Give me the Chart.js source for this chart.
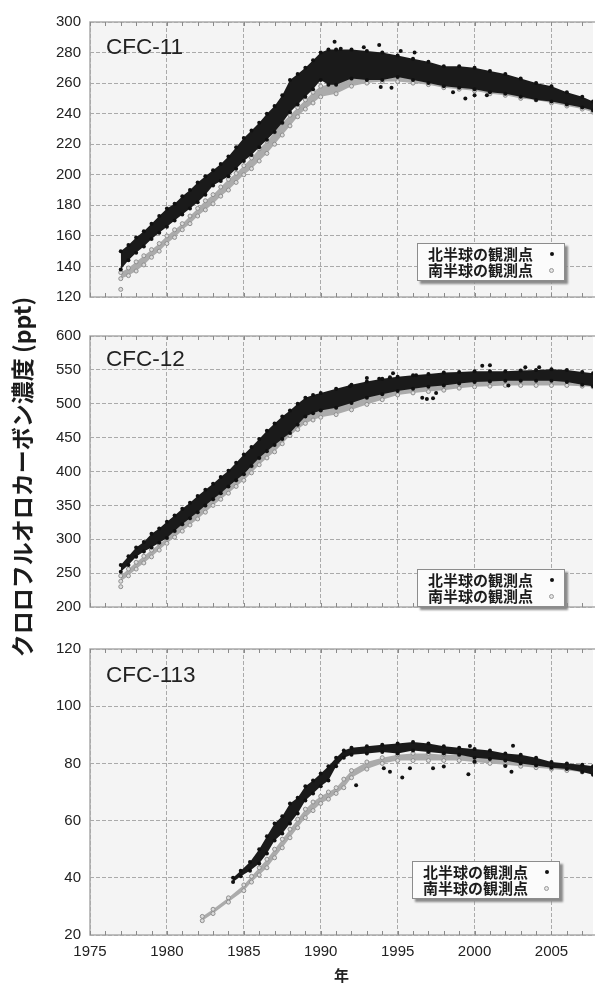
<!DOCTYPE html>
<html lang="ja">
<head>
<meta charset="UTF-8">
<title>クロロフルオロカーボン濃度</title>
<script src="https://cdn.jsdelivr.net/npm/chart.js"></script>
<style>
    body { margin: 0; background: #fff; }
    #wrap { position: relative; width: 598px; height: 983px; overflow: hidden; font-family: "Liberation Sans", Arial, sans-serif; }
    canvas { position: absolute; left: 0; }
    .panel-name { position: absolute; left: 106px; font-size: 22.5px; line-height: 22px; color: #222; }
    .legend { position: absolute; width: 128px; background: #fbfbfb; border: 1px solid #8c8c8c; box-shadow: 3px 3px 2px #8a8a8a;
              font-family: "Noto Sans CJK JP", sans-serif; font-weight: 700; font-size: 15px; line-height: 16px; color: #1c1c1c; padding: 2px 8px 2px 10px; }
    .legend .row { position: relative; }
    .legend .mk { position: absolute; right: 2px; top: 6px; width: 4px; height: 4px; border-radius: 50%; }
    .mk.north { background: #111; }
    .mk.south { background: #e4e4e4; border: 1px solid #9a9a9a; width: 3px; height: 3px; }
    #ytitle { position: absolute; left: -179px; top: 462px; width: 400px; height: 30px; line-height: 30px; text-align: center;
              transform: rotate(-90deg); font-family: "Noto Sans CJK JP", sans-serif; font-weight: 600; font-size: 23px; color: #1c1c1c; }
</style>
</head>
<body>
<div id="wrap">
    <canvas id="c11" width="598" height="315" style="top:0px"></canvas>
    <canvas id="c12" width="598" height="310" style="top:315px"></canvas>
    <canvas id="c113" width="598" height="358" style="top:625px"></canvas>

    <div class="panel-name" style="top:36px">CFC-11</div>
    <div class="panel-name" style="top:348px">CFC-12</div>
    <div class="panel-name" style="top:664px">CFC-113</div>

    <div class="legend" style="left:417px; top:243px">
        <div class="row">北半球の観測点<span class="mk north"></span></div>
        <div class="row">南半球の観測点<span class="mk south"></span></div>
    </div>
    <div class="legend" style="left:417px; top:569px">
        <div class="row">北半球の観測点<span class="mk north"></span></div>
        <div class="row">南半球の観測点<span class="mk south"></span></div>
    </div>
    <div class="legend" style="left:412px; top:861px">
        <div class="row">北半球の観測点<span class="mk north"></span></div>
        <div class="row">南半球の観測点<span class="mk south"></span></div>
    </div>

    <div id="ytitle">クロロフルオロカーボン濃度 (ppt)</div>
</div>

<script>
    // ---- CFC-11 (ppt) : upper / lower edge of each point cloud ----
    const north11Years = [1977, 1977.5, 1978, 1978.5, 1979, 1979.5, 1980, 1980.5, 1981, 1981.5, 1982, 1982.5, 1983, 1983.5, 1984, 1984.5, 1985, 1985.5, 1986, 1986.5, 1987, 1987.5, 1988, 1988.5, 1989, 1989.5, 1990, 1990.5, 1991, 1992, 1993, 1994, 1995, 1996, 1997, 1998, 1999, 2000, 2001, 2002, 2003, 2004, 2005, 2006, 2007, 2007.7];
    const north11Low   = [138, 144, 149, 153, 158, 162, 166, 170, 174, 178, 182, 187, 193, 196, 199, 204, 209, 213, 218, 223, 228, 234, 241, 246, 251, 256, 262, 259, 259, 263, 262, 262, 264, 262, 260, 258, 257, 256, 254, 253, 251, 249, 248, 246, 244, 242];
    const north11High  = [150, 154, 159, 163, 168, 173, 178, 181, 186, 190, 195, 199, 203, 207, 212, 218, 224, 229, 234, 240, 245, 252, 262, 266, 270, 275, 280, 282, 282, 282, 281, 280, 278, 276, 274, 271, 271, 270, 268, 266, 263, 260, 258, 254, 251, 248];
    const north11OutYears = [1990.9, 1991.3, 1992.8, 1993.8, 1995.2, 1996.1, 1993.9, 1994.6, 1998.6, 1999.4, 2000.0, 2000.8];
    const north11Out      = [287, 282.5, 283.5, 285, 281, 280, 257.5, 257, 254, 250, 252, 252];
    const south11Years = [1977, 1977.5, 1978, 1978.5, 1979, 1979.5, 1980, 1980.5, 1981, 1981.5, 1982, 1982.5, 1983, 1983.5, 1984, 1984.5, 1985, 1985.5, 1986, 1986.5, 1987, 1987.5, 1988, 1988.5, 1989, 1989.5, 1990, 1991, 1992, 1993, 1994, 1995, 1996, 1997, 1998, 1999, 2000, 2001, 2002, 2003, 2004, 2005, 2006, 2007, 2007.7];
    const south11Low   = [132, 134, 137, 141, 146, 150, 155, 159, 164, 168, 173, 177, 181, 186, 190, 195, 200, 204, 209, 214, 220, 226, 232, 238, 243, 247, 251, 253, 258, 260, 261, 261, 260, 259, 257, 256, 255, 253, 252, 250, 249, 247, 245, 243, 241];
    const south11High  = [136, 139, 143, 147, 151, 155, 160, 164, 168, 173, 178, 183, 187, 192, 197, 201, 206, 211, 217, 222, 228, 234, 239, 244, 249, 254, 258, 260, 263, 265, 266, 266, 265, 264, 262, 261, 260, 258, 256, 254, 253, 251, 249, 247, 245];
    const south11OutYears = [1977.0];
    const south11Out      = [125];

    // ---- CFC-12 (ppt) ----
    const north12Years = [1977, 1977.5, 1978, 1978.5, 1979, 1979.5, 1980, 1980.5, 1981, 1981.5, 1982, 1982.5, 1983, 1983.5, 1984, 1984.5, 1985, 1985.5, 1986, 1986.5, 1987, 1987.5, 1988, 1988.5, 1989, 1989.5, 1990, 1991, 1992, 1993, 1994, 1995, 1996, 1997, 1998, 1999, 2000, 2001, 2002, 2003, 2004, 2005, 2006, 2007, 2007.7];
    const north12Low   = [252, 262, 274, 282, 288, 295, 302, 312, 322, 331, 340, 350, 359, 368, 378, 387, 396, 408, 420, 430, 439, 448, 457, 469, 481, 486, 490, 494, 501, 509, 514, 519, 522, 525, 527, 530, 532, 533, 534, 534, 534, 534, 532, 528, 526];
    const north12High  = [262, 275, 288, 296, 308, 316, 326, 335, 345, 354, 364, 373, 382, 392, 401, 413, 425, 436, 448, 460, 471, 481, 490, 500, 509, 513, 516, 522, 528, 533, 537, 540, 542, 544, 546, 547, 548, 548, 548, 549, 550, 551, 550, 547, 545];
    const north12OutYears = [1991.9, 1993.0, 1993.8, 1994.5, 1994.7, 1996.2, 1996.6, 1996.9, 1997.3, 1997.5, 2000.5, 2001.0, 2002.2, 2003.3, 2004.2];
    const north12Out      = [526, 538, 537, 539, 545, 542, 509, 507, 508, 516, 556, 557, 527, 554, 554];
    const south12Years = [1977, 1977.5, 1978, 1978.5, 1979, 1979.5, 1980, 1980.5, 1981, 1981.5, 1982, 1982.5, 1983, 1983.5, 1984, 1984.5, 1985, 1985.5, 1986, 1986.5, 1987, 1987.5, 1988, 1988.5, 1989, 1989.5, 1990, 1991, 1992, 1993, 1994, 1995, 1996, 1997, 1998, 1999, 2000, 2001, 2002, 2003, 2004, 2005, 2006, 2007, 2007.7];
    const south12Low   = [238, 246, 256, 265, 274, 284, 294, 303, 312, 321, 330, 340, 350, 359, 368, 378, 387, 398, 410, 420, 429, 441, 453, 462, 471, 476, 480, 484, 491, 499, 506, 513, 516, 518, 520, 523, 525, 526, 527, 527, 527, 527, 527, 526, 525];
    const south12High  = [246, 256, 266, 275, 284, 293, 302, 312, 322, 331, 340, 350, 359, 369, 378, 387, 396, 408, 420, 432, 443, 455, 467, 476, 483, 487, 491, 495, 504, 512, 517, 523, 525, 527, 530, 532, 533, 534, 535, 536, 536, 536, 534, 533, 532];
    const south12OutYears = [1977.0];
    const south12Out      = [230];

    // ---- CFC-113 (ppt) ----
    const north113Years = [1984.3, 1984.8, 1985.4, 1986, 1986.5, 1987, 1987.5, 1988, 1988.5, 1989, 1989.5, 1990, 1990.5, 1991, 1991.5, 1992, 1993, 1994, 1995, 1996, 1997, 1998, 1999, 2000, 2001, 2002, 2003, 2004, 2005, 2006, 2007, 2007.7];
    const north113Low   = [38.5, 40.5, 42.5, 45, 48.5, 53, 55.5, 59, 62.5, 67, 69.5, 72, 74, 79, 82, 83, 83.5, 84, 83.5, 84.5, 84, 83.5, 83, 82, 81.5, 81, 80, 79.3, 78.5, 78, 77, 76];
    const north113High  = [40, 42.5, 45.5, 50, 54.5, 59, 61.5, 66, 68, 72, 74, 76.5, 79, 82, 84.5, 85.5, 86, 86.5, 87, 87.5, 87, 86, 85.5, 85, 84.5, 83.5, 83, 82, 80.5, 80, 79.5, 79];
    const north113OutYears = [1992.3, 1994.1, 1994.5, 1995.3, 1995.8, 1997.3, 1998.0, 1999.6, 1999.7, 2000.0, 2002.0, 2002.4, 2002.5];
    const north113Out      = [72.4, 78.3, 77.1, 75.1, 78.3, 78.3, 78.9, 76.2, 86.1, 80.6, 79.1, 77.1, 86.2];
    const south113Years = [1982.3, 1983, 1984, 1985, 1985.5, 1986, 1986.5, 1987, 1987.5, 1988, 1988.5, 1989, 1989.5, 1990, 1990.5, 1991, 1991.5, 1992, 1993, 1994, 1995, 1996, 1997, 1998, 1999, 2000, 2001, 2002, 2003, 2004, 2005, 2006, 2007, 2007.7];
    const south113Low   = [25, 27.5, 31.5, 35.5, 38.5, 41, 43.5, 47, 50.5, 54, 57.5, 61, 63.5, 66, 67.5, 69.5, 71.5, 75, 78, 80, 81, 81, 81, 81, 81, 80.5, 80, 79.5, 79, 78.5, 78, 77.5, 77, 76.5];
    const south113High  = [26.5, 29, 33, 37.5, 40.5, 43.5, 46.5, 50, 53.5, 57, 60.5, 64, 66.5, 68.5, 70, 71.5, 74.5, 77.5, 80.5, 82, 83, 83.5, 83.5, 83, 83, 82.5, 82, 81.5, 81, 80, 79.5, 79, 78.5, 78];

    // x axis (years)
    const yearMin = 1975;
    const yearMax = 2007.7;

    const toPoints = (xs, ys) => xs.map((x, i) => ({ x: x, y: ys[i] }));

    // grey plot background, frame and the small yearly tick marks
    const framePlugin = {
        id: 'frame',
        beforeDraw(chart) {
            const { ctx, chartArea: a } = chart;
            ctx.save();
            ctx.fillStyle = '#f4f4f4';
            ctx.fillRect(a.left, a.top, a.right - a.left, a.bottom - a.top);
            ctx.restore();
        },
        afterDraw(chart) {
            const { ctx, chartArea: a } = chart;
            const x = chart.scales.x;
            ctx.save();
            ctx.strokeStyle = '#ababab';
            ctx.lineWidth = 1.5;
            ctx.beginPath();
            ctx.moveTo(a.right + 2, a.top);
            ctx.lineTo(a.left, a.top);
            ctx.lineTo(a.left, a.bottom);
            ctx.lineTo(a.right + 2, a.bottom);
            ctx.stroke();
            ctx.lineWidth = 1;
            ctx.strokeStyle = '#8a8a8a';
            ctx.beginPath();
            for (let yr = Math.ceil(yearMin); yr <= yearMax; yr++) {
                const px = Math.round(x.getPixelForValue(yr)) + 0.5;
                ctx.moveTo(px, a.top); ctx.lineTo(px, a.top + 4);
                ctx.moveTo(px, a.bottom); ctx.lineTo(px, a.bottom - 4);
            }
            ctx.stroke();
            ctx.restore();
        }
    };

    function makeChart(id, d) {
        const north = { showLine: false, borderWidth: 0, pointRadius: 2, pointBorderWidth: 0,
                        pointBackgroundColor: '#111', pointBorderColor: '#111' };
        const south = { showLine: false, borderWidth: 0, pointRadius: 2, pointBorderWidth: 1,
                        pointBackgroundColor: '#dcdcdc', pointBorderColor: '#8f8f8f' };
        return new Chart(document.getElementById(id), {
            type: 'line',
            data: {
                datasets: [
                    Object.assign({ label: '北半球の観測点', data: toPoints(d.nOutYears, d.nOut), fill: false }, north),
                    Object.assign({ label: '北半球 下限', data: toPoints(d.nYears, d.nLow), fill: false }, north),
                    Object.assign({ label: '北半球 上限', data: toPoints(d.nYears, d.nHigh), fill: '-1', backgroundColor: '#1a1a1a' }, north),
                    Object.assign({ label: '南半球の観測点', data: toPoints(d.sOutYears, d.sOut), fill: false }, south),
                    Object.assign({ label: '南半球 下限', data: toPoints(d.sYears, d.sLow), fill: false }, south),
                    Object.assign({ label: '南半球 上限', data: toPoints(d.sYears, d.sHigh), fill: '-1', backgroundColor: '#ababab' }, south)
                ]
            },
            options: {
                responsive: false,
                animation: false,
                layout: { padding: { top: d.padTop, left: 0, right: 0, bottom: 0 } },
                plugins: { legend: { display: false }, tooltip: { enabled: false } },
                scales: {
                    x: {
                        type: 'linear',
                        min: yearMin,
                        max: yearMax,
                        border: { display: false, dash: [4, 2] },
                        grid: { color: '#a2a2a2', lineWidth: 0.9, drawTicks: false },
                        ticks: {
                            display: d.showX,
                            stepSize: 5,
                            includeBounds: false,
                            padding: 8,
                            color: '#222',
                            font: { family: 'Liberation Sans', size: 15 },
                            callback: v => String(v)
                        },
                        title: {
                            display: d.showX,
                            text: '年',
                            padding: 0,
                            color: '#222',
                            font: { family: 'Noto Sans CJK JP', size: 15, weight: 'bold', lineHeight: 1 }
                        },
                        afterFit: s => { s.height = d.xHeight; }
                    },
                    y: {
                        min: d.yMin,
                        max: d.yMax,
                        border: { display: false, dash: [4, 2] },
                        grid: { color: '#a2a2a2', lineWidth: 0.9, drawTicks: false },
                        ticks: {
                            stepSize: d.yStep,
                            padding: 9,
                            color: '#222',
                            font: { family: 'Liberation Sans', size: 15 }
                        },
                        afterFit: s => { s.width = 90; }
                    }
                }
            },
            plugins: [framePlugin]
        });
    }

    makeChart('c11', { nYears: north11Years, nLow: north11Low, nHigh: north11High, nOutYears: north11OutYears, nOut: north11Out,
                       sYears: south11Years, sLow: south11Low, sHigh: south11High, sOutYears: south11OutYears, sOut: south11Out,
                       yMin: 120, yMax: 300, yStep: 20, padTop: 22, xHeight: 5, showX: false });
    makeChart('c12', { nYears: north12Years, nLow: north12Low, nHigh: north12High, nOutYears: north12OutYears, nOut: north12Out,
                       sYears: south12Years, sLow: south12Low, sHigh: south12High, sOutYears: south12OutYears, sOut: south12Out,
                       yMin: 200, yMax: 600, yStep: 50, padTop: 21, xHeight: 5, showX: false });
    makeChart('c113', { nYears: north113Years, nLow: north113Low, nHigh: north113High, nOutYears: north113OutYears, nOut: north113Out,
                        sYears: south113Years, sLow: south113Low, sHigh: south113High, sOutYears: [], sOut: [],
                        yMin: 20, yMax: 120, yStep: 20, padTop: 24, xHeight: 48, showX: true });
</script>
</body>
</html>
